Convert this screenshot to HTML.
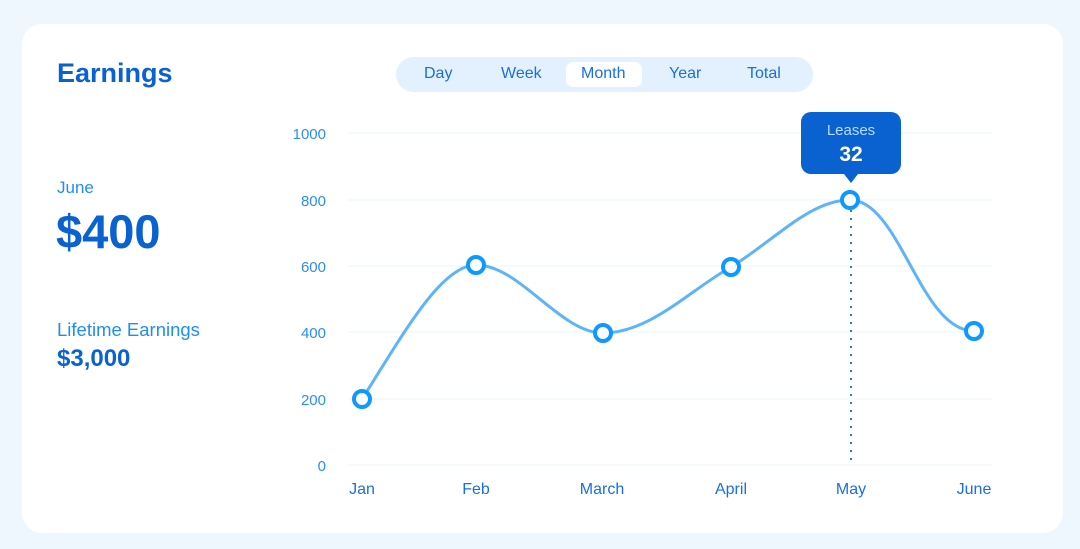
<!DOCTYPE html>
<html><head><style>
body{margin:0;width:1080px;height:549px;background:#eef6fe;font-family:"Liberation Sans",sans-serif;overflow:hidden}
.card{position:absolute;left:22px;top:24px;width:1041px;height:509px;background:#fff;border-radius:20px}
.t{position:absolute;white-space:nowrap}
</style></head><body>
<div class="card"></div>
<div class="t" style="left:57px;top:58px;font-size:27px;font-weight:bold;color:#0a62d0">Earnings</div>
<div class="t" style="left:57px;top:178px;font-size:17px;color:#1e8ff0">June</div>
<div class="t" style="left:56px;top:204px;font-size:47px;font-weight:bold;color:#0a62d0">$400</div>
<div class="t" style="left:57px;top:319px;font-size:18.5px;color:#1e8ff0">Lifetime Earnings</div>
<div class="t" style="left:57px;top:345px;font-size:24px;font-weight:bold;color:#0a62d0">$3,000</div>
<div class="t" style="left:396px;top:57px;width:417px;height:35px;background:#e3f1fe;border-radius:18px"></div>
<div class="t" style="left:566px;top:62px;width:76px;height:25px;background:#fff;border-radius:7px"></div>
<div class="t" style="left:424px;top:65px;font-size:16px;color:#1a6fe0">Day</div>
<div class="t" style="left:501px;top:65px;font-size:16px;color:#1a6fe0">Week</div>
<div class="t" style="left:581px;top:65px;font-size:16px;color:#1a6fe0">Month</div>
<div class="t" style="left:669px;top:65px;font-size:16px;color:#1a6fe0">Year</div>
<div class="t" style="left:747px;top:65px;font-size:16px;color:#1a6fe0">Total</div>
<svg width="1080" height="549" style="position:absolute;left:0;top:0" font-family="Liberation Sans, sans-serif">
<g stroke="#eaf4fd" stroke-width="1">
<line x1="348" x2="992" y1="133" y2="133"/><line x1="348" x2="992" y1="200" y2="200"/>
<line x1="348" x2="992" y1="266" y2="266"/><line x1="348" x2="992" y1="332" y2="332"/>
<line x1="348" x2="992" y1="399" y2="399"/><line x1="348" x2="992" y1="465" y2="465"/>
</g>
<g fill="#2a8ff0" font-size="15" text-anchor="end">
<text x="326" y="139">1000</text><text x="326" y="206">800</text><text x="326" y="272">600</text>
<text x="326" y="338">400</text><text x="326" y="405">200</text><text x="326" y="471">0</text>
</g>
<g fill="#1a6fe0" font-size="16" text-anchor="middle">
<text x="362" y="494">Jan</text><text x="476" y="494">Feb</text><text x="602" y="494">March</text>
<text x="731" y="494">April</text><text x="851" y="494">May</text><text x="974" y="494">June</text>
</g>
<line x1="851" y1="210" x2="851" y2="465" stroke="#1a7fe0" stroke-width="2" stroke-dasharray="2,6"/>
<path d="M362,399 C400,340 440,265 476,265 C520,265 560,333 603,333 C650,333 690,290 731,267 C775,240 810,200 850,200 C900,200 920,331 974,331" fill="none" stroke="#5db4f8" stroke-width="3"/>
<g fill="#fff" stroke="#0d99ff" stroke-width="4">
<circle cx="362" cy="399" r="8"/><circle cx="476" cy="265" r="8"/><circle cx="603" cy="333" r="8"/>
<circle cx="731" cy="267" r="8"/><circle cx="850" cy="200" r="8"/><circle cx="974" cy="331" r="8"/>
</g>
<rect x="801" y="112" width="100" height="62" rx="10" fill="#0a62d0"/>
<polygon points="844,174 858,174 851,183" fill="#0a62d0"/>
<text x="851" y="135" fill="#b8dcff" font-size="15" text-anchor="middle">Leases</text>
<text x="851" y="161" fill="#fff" font-size="21" font-weight="bold" text-anchor="middle">32</text>
</svg>
</body></html>
